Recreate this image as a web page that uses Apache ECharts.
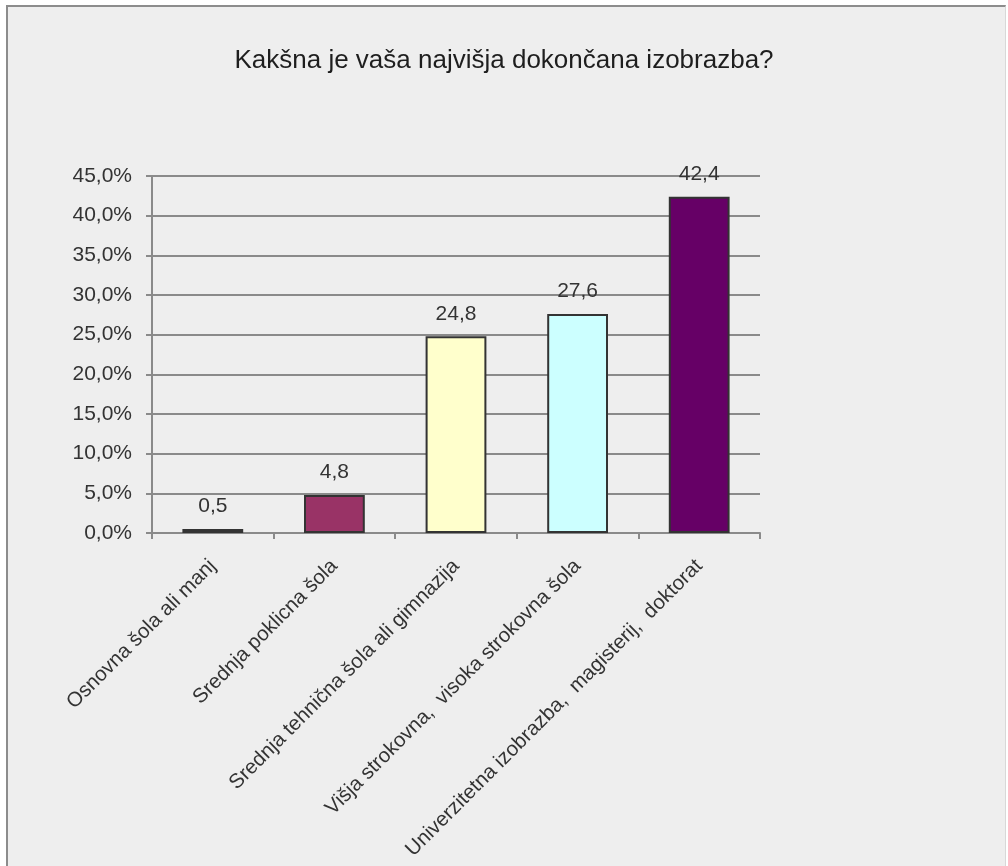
<!DOCTYPE html>
<html>
<head>
<meta charset="utf-8">
<script src="https://cdn.jsdelivr.net/npm/echarts@6/dist/echarts.min.js"></script>
<style>
  html, body { margin: 0; padding: 0; background: #ffffff; }
  #panel {
    position: absolute; left: 6px; top: 5px; width: 1000px; height: 900px;
    background: #eeeeee; border-left: 2px solid #8c8c8c; border-top: 2px solid #8c8c8c;
    border-right: 1px solid #d8d8d8; box-sizing: border-box;
  }
  #chart { position: absolute; left: 0; top: 0; width: 1008px; height: 866px; }
</style>
</head>
<body>
<div id="panel"></div>
<div id="chart"></div>
<script>
// Education levels and their share of respondents (%)
const categories = [
  'Osnovna šola ali manj',
  'Srednja poklicna šola',
  'Srednja tehnična šola ali gimnazija',
  'Višja strokovna,  visoka strokovna šola',
  'Univerzitetna izobrazba,  magisterij,  doktorat'
];
const shares = [0.5, 4.8, 24.8, 27.6, 42.4];
const barColors = ['#8080d0', '#993366', '#ffffcc', '#ccffff', '#660066'];
const yTicks = { min: 0, max: 45, step: 5 };

const fmtComma = (v, digits) => v.toFixed(digits).replace('.', ',');
const FONT = 'Liberation Sans, Arial, sans-serif';

const chart = echarts.init(document.getElementById('chart'), null, { renderer: 'canvas' });
chart.setOption({
  backgroundColor: 'transparent',
  animation: false,
  textStyle: { fontFamily: FONT },
  title: {
    text: 'Kakšna je vaša najvišja dokončana izobrazba?',
    left: 'center',
    top: 43,
    textStyle: { fontSize: 26, fontWeight: 'normal', color: '#1e1e1e', fontFamily: FONT }
  },
  grid: { left: 152, right: 248, top: 176, bottom: 333, containLabel: false },
  xAxis: {
    type: 'category',
    data: categories,
    boundaryGap: true,
    axisLine: { lineStyle: { color: '#8a8a8a', width: 2 } },
    axisTick: { show: true, length: 6, alignWithLabel: false, lineStyle: { color: '#8a8a8a', width: 2 } },
    axisLabel: {
      rotate: 45, interval: 0, margin: 30,
      padding: [22, 0, 0, 0],
      fontSize: 20.5, color: '#333333', fontFamily: FONT
    }
  },
  yAxis: {
    type: 'value',
    min: yTicks.min, max: yTicks.max, interval: yTicks.step,
    axisLine: { show: true, lineStyle: { color: '#8a8a8a', width: 2 } },
    axisTick: { show: true, length: 6, lineStyle: { color: '#8a8a8a', width: 2 } },
    splitLine: { show: true, lineStyle: { color: '#8a8a8a', width: 2 } },
    axisLabel: {
      margin: 20, fontSize: 21, color: '#333333', fontFamily: FONT,
      formatter: v => fmtComma(v, 1) + '%'
    }
  },
  series: [{
    type: 'bar',
    data: shares.map((v, i) => ({ value: v, itemStyle: { color: barColors[i] } })),
    barWidth: '50%',
    itemStyle: { borderColor: '#333333', borderWidth: 2 },
    label: {
      show: true, position: 'top', distance: 12,
      fontSize: 21, color: '#333333', fontFamily: FONT,
      formatter: p => fmtComma(p.value, 1)
    }
  }]
});
</script>
</body>
</html>
